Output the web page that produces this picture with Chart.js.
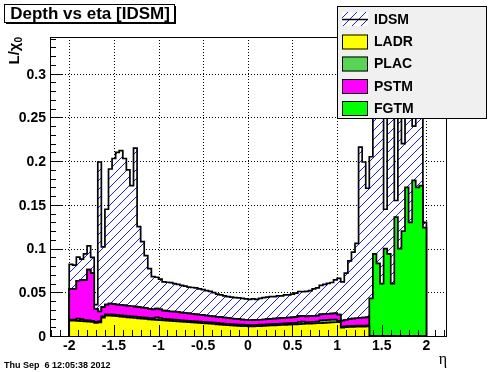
<!DOCTYPE html>
<html>
<head>
<meta charset="utf-8">
<script src="https://cdn.jsdelivr.net/npm/chart.js@4.4.1/dist/chart.umd.min.js"></script>
<style>
  html, body { margin: 0; padding: 0; background: #fff; }
  canvas { display: block; }
</style>
</head>
<body>
<canvas id="depth_chart" width="496" height="372"></canvas>
<script>
// histogram binning in eta
const etaLow = -2;
const binWidth = 0.04;

// material depth per bin (L/X0), one array per detector volume
const ladr = [
  .0177, .0175, .0173, .0170, .0168, .0165, .0160, .0150, .0155, .0210,
  .0234, .0232, .0230, .0226, .0222, .0218, .0214, .0210, .0206, .0202,
  .0198, .0195, .0191, .0188, .0185, .0182, .0179, .0176, .0173, .0170,
  .0167, .0164, .0161, .0158, .0155, .0152, .0149, .0146, .0143, .0140,
  .0137, .0134, .0131, .0128, .0125, .0122, .0119, .0116, .0114, .0112,
  .0110, .0111, .0112, .0114, .0116, .0118, .0120, .0122, .0124, .0126,
  .0128, .0130, .0132, .0134, .0136, .0138, .0140, .0142, .0144, .0146,
  .0148, .0150, .0152, .0155, .0157, .0158, .0095, .0100, .0103, .0105,
  .0106, .0107, .0108, .0109, 0, 0, 0, 0, 0, 0,
  0, 0, 0, 0, 0, 0, 0, 0, 0, 0
];
const plac = [
  .0012, .0012, .0026, .0024, .0014, .0014, .0014, .0012, .0012, .0014,
  .0015, .0015, .0015, .0015, .0015, .0015, .0015, .0016, .0016, .0016,
  .0016, .0016, .0016, .0016, .0028, .0026, .0016, .0017, .0017, .0017,
  .0017, .0016, .0016, .0016, .0016, .0016, .0016, .0016, .0016, .0015,
  .0015, .0015, .0015, .0015, .0015, .0015, .0015, .0015, .0015, .0015,
  .0015, .0015, .0015, .0015, .0015, .0015, .0016, .0016, .0016, .0016,
  .0016, .0017, .0017, .0017, .0026, .0026, .0018, .0018, .0019, .0019,
  .0030, .0032, .0032, .0032, .0030, .0016, .0012, .0012, .0012, .0012,
  .0012, .0012, .0012, .0012, 0, 0, 0, 0, 0, 0,
  0, 0, 0, 0, 0, 0, 0, 0, 0, 0
];
const pstm = [
  .0351, .0353, .0433, .0446, .0458, .0581, .0546, .0148, .0113, .0106,
  .0111, .0123, .0120, .0119, .0118, .0117, .0116, .0114, .0113, .0112,
  .0111, .0109, .0103, .0101, .0099, .0097, .0095, .0092, .0090, .0091,
  .0088, .0088, .0085, .0084, .0081, .0080, .0078, .0076, .0074, .0073,
  .0072, .0070, .0069, .0067, .0065, .0063, .0062, .0061, .0059, .0057,
  .0055, .0056, .0057, .0057, .0058, .0059, .0059, .0060, .0061, .0062,
  .0063, .0063, .0064, .0065, .0066, .0066, .0067, .0068, .0068, .0069,
  .0069, .0069, .0069, .0069, .0071, .0071, .0070, .0073, .0077, .0081,
  .0085, .0088, .0090, .0093, 0, 0, 0, 0, 0, 0,
  0, 0, 0, 0, 0, 0, 0, 0, 0, 0
];
const fgtm = [
  0, 0, 0, 0, 0, 0, 0, 0, 0, 0,
  0, 0, 0, 0, 0, 0, 0, 0, 0, 0,
  0, 0, 0, 0, 0, 0, 0, 0, 0, 0,
  0, 0, 0, 0, 0, 0, 0, 0, 0, 0,
  0, 0, 0, 0, 0, 0, 0, 0, 0, 0,
  0, 0, 0, 0, 0, 0, 0, 0, 0, 0,
  0, 0, 0, 0, 0, 0, 0, 0, 0, 0,
  0, 0, 0, 0, 0, 0, 0, 0, 0, 0,
  0, 0, 0, 0, .043, .094, .083, .060, .100, .094,
  .060, .136, .100, .120, .170, .130, .178, .170, .172, .124
];
const idsm = [
  .028, .027, .027, .024, .030, .027, .018, .005, .171, .069,
  .109, .154, .1665, .174, .1765, .168, .1555, .138, .1815, .092,
  .0755, .060, .046, .0375, .036, .0345, .033, .033, .033, .0322,
  .0318, .0312, .0308, .0302, .0303, .0302, .0297, .0292, .0287, .0282,
  .0271, .0261, .0255, .0250, .0245, .0245, .0244, .0243, .0242, .0241,
  .0240, .0243, .0236, .0244, .0251, .0253, .0255, .0252, .0259, .0256,
  .0263, .0260, .0267, .0274, .0281, .0278, .0285, .0292, .0309, .0316,
  .0333, .0340, .0348, .0356, .0384, .0415, .0443, .0535, .0668, .0762,
  .0857, .1953, .1780, .1476, .162, .186, .277, .240, .045, .266,
  .260, .019, .260, .100, .190, .170, .062, .190, .188, .006
];

const xTickLabels = [-2, -1.5, -1, -0.5, 0, 0.5, 1, 1.5, 2];
const yTickLabels = [0, 0.05, 0.1, 0.15, 0.2, 0.25, 0.3];
const legendOrder = ['IDSM', 'LADR', 'PLAC', 'PSTM', 'FGTM'];
const titleText = 'Depth vs eta [IDSM]';
const dateText = 'Thu Sep  6 12:05:38 2012';

const FONT = '"Liberation Sans", Arial, sans-serif';

function makeHatch() {
    const c = document.createElement('canvas');
    c.width = 9;
    c.height = 9;
    const g = c.getContext('2d');
    g.fillStyle = '#ffffff';
    g.fillRect(0, 0, 9, 9);
    g.strokeStyle = '#0000ff';
    g.lineWidth = 0.9;
    g.beginPath();
    g.moveTo(-1, 10);
    g.lineTo(10, -1);
    g.stroke();
    return g.createPattern(c, 'repeat');
}
const hatch = makeHatch();

// stack order, bottom to top
const layers = [
    { label: 'LADR', values: ladr, color: '#ffff00' },
    { label: 'PLAC', values: plac, color: '#59d354' },
    { label: 'PSTM', values: pstm, color: '#ff00ff' },
    { label: 'FGTM', values: fgtm, color: '#00ff00' },
    { label: 'IDSM', values: idsm, color: hatch }
];

const nBins = idsm.length;
const running = new Array(nBins).fill(0);
const datasets = layers.map((layer, k) => {
    const pts = [{ x: etaLow, y: 0 }];
    layer.values.forEach((v, i) => {
        running[i] += v;
        pts.push({ x: etaLow + i * binWidth, y: running[i] });
    });
    pts.push({ x: etaLow + nBins * binWidth, y: 0 });
    return {
        label: layer.label,
        data: pts,
        stepped: 'before',
        fill: k === 0 ? 'origin' : '-1',
        backgroundColor: layer.color,
        borderColor: '#000000',
        borderWidth: 1.7,
        pointRadius: 0,
        tension: 0,
        clip: 0
    };
});

function fmt(v) {
    return String(v);
}

const rootStyle = {
    id: 'rootStyle',
    beforeDatasetsDraw(chart) {
        const { ctx, chartArea: a, scales: { x, y } } = chart;
        ctx.save();
        ctx.strokeStyle = '#000';
        ctx.lineWidth = 1;
        ctx.setLineDash([1, 2]);
        xTickLabels.forEach(v => {
            const px = Math.round(x.getPixelForValue(v)) + 0.5;
            ctx.beginPath();
            ctx.moveTo(px, a.top);
            ctx.lineTo(px, a.bottom);
            ctx.stroke();
        });
        yTickLabels.forEach(v => {
            if (v === 0) return;
            const py = Math.round(y.getPixelForValue(v)) + 0.5;
            ctx.beginPath();
            ctx.moveTo(a.left, py);
            ctx.lineTo(a.right, py);
            ctx.stroke();
        });
        ctx.restore();
    },
    afterDatasetsDraw(chart) {
        const { ctx, chartArea: a, scales: { x, y } } = chart;
        ctx.save();
        ctx.strokeStyle = '#000';
        ctx.lineWidth = 1;
        // frame
        ctx.strokeRect(Math.round(a.left) + 0.5, Math.round(a.top) + 0.5,
            Math.round(a.right - a.left) - 1, Math.round(a.bottom - a.top));
        // y ticks, inward
        for (let k = 0; k <= 34; k++) {
            const v = k / 100;
            const py = Math.round(y.getPixelForValue(v)) + 0.5;
            const len = k % 5 === 0 ? 12 : 6;
            ctx.beginPath();
            ctx.moveTo(a.left, py);
            ctx.lineTo(a.left + len, py);
            ctx.stroke();
        }
        // x ticks, inward
        for (let k = -22; k <= 22; k++) {
            const v = k / 10;
            const px = Math.round(x.getPixelForValue(v)) + 0.5;
            const len = k % 5 === 0 ? 11 : 6;
            ctx.beginPath();
            ctx.moveTo(px, a.bottom);
            ctx.lineTo(px, a.bottom - len);
            ctx.stroke();
        }
        // tick labels
        ctx.fillStyle = '#000';
        ctx.font = 'bold 14px ' + FONT;
        ctx.textAlign = 'right';
        ctx.textBaseline = 'middle';
        yTickLabels.forEach(v => {
            ctx.fillText(fmt(v), a.left - 4, y.getPixelForValue(v) + 1);
        });
        ctx.textAlign = 'center';
        ctx.textBaseline = 'top';
        xTickLabels.forEach(v => {
            ctx.fillText(fmt(v), x.getPixelForValue(v), a.bottom + 3);
        });
        ctx.restore();
    },
    afterDraw(chart) {
        const { ctx, chartArea: a } = chart;
        ctx.save();

        // title box
        ctx.fillStyle = '#fff';
        ctx.fillRect(4, 4, 171, 19);
        ctx.strokeStyle = '#000';
        ctx.lineWidth = 1;
        ctx.strokeRect(4.5, 4.5, 170, 18);
        ctx.fillStyle = '#000';
        ctx.fillRect(175, 6, 1, 18);
        ctx.fillRect(6, 23, 170, 1);
        ctx.font = 'bold 17px ' + FONT;
        ctx.textAlign = 'center';
        ctx.textBaseline = 'middle';
        ctx.fillText(titleText, 90, 14);

        // legend
        ctx.fillStyle = '#f0f0f0';
        ctx.fillRect(337, 6, 150, 113);
        ctx.strokeStyle = '#000';
        ctx.strokeRect(337.5, 6.5, 149, 112);
        const rowY = [19, 41.5, 63.5, 86, 108];
        legendOrder.forEach((name, r) => {
            const ds = chart.data.datasets.find(d => d.label === name);
            const cy = rowY[r];
            if (name === 'IDSM') {
                ctx.fillStyle = hatch;
                ctx.fillRect(342, cy - 7, 26, 14);
                ctx.strokeStyle = '#000';
                ctx.lineWidth = 1.5;
                ctx.beginPath();
                ctx.moveTo(342, cy + 0.5);
                ctx.lineTo(368, cy + 0.5);
                ctx.stroke();
            } else {
                ctx.fillStyle = ds.backgroundColor;
                ctx.fillRect(342, cy - 7, 26, 15);
                ctx.strokeStyle = '#000';
                ctx.lineWidth = 1;
                ctx.strokeRect(342.5, cy - 6.5, 25, 14);
            }
            ctx.fillStyle = '#000';
            ctx.font = 'bold 14px ' + FONT;
            ctx.textAlign = 'left';
            ctx.textBaseline = 'middle';
            ctx.fillText(name, 374, cy + 1);
        });

        // y axis title L/chi_0, rotated
        ctx.save();
        ctx.translate(19, 37);
        ctx.rotate(-Math.PI / 2);
        ctx.fillStyle = '#000';
        ctx.textBaseline = 'alphabetic';
        ctx.textAlign = 'left';
        ctx.font = 'bold 15px ' + FONT;
        const w1 = ctx.measureText('L/\u03c7').width;
        ctx.font = 'bold 10px ' + FONT;
        const w2 = ctx.measureText('0').width;
        const start = -(w1 + w2);
        ctx.font = 'bold 15px ' + FONT;
        ctx.fillText('L/\u03c7', start, 0);
        ctx.font = 'bold 10px ' + FONT;
        ctx.fillText('0', start + w1, 3);
        ctx.restore();

        // x axis title eta
        ctx.fillStyle = '#000';
        ctx.font = '16px "Liberation Serif", "DejaVu Serif", serif';
        ctx.textAlign = 'right';
        ctx.textBaseline = 'alphabetic';
        ctx.fillText('\u03b7', a.right, 364);

        // date stamp
        ctx.font = 'bold 9px ' + FONT;
        ctx.textAlign = 'left';
        ctx.fillText(dateText, 4, 368);
        ctx.restore();
    }
};

new Chart(document.getElementById('depth_chart'), {
    type: 'line',
    data: { datasets: datasets },
    options: {
        responsive: false,
        animation: false,
        devicePixelRatio: 1,
        layout: { padding: { left: 50, right: 49, top: 37, bottom: 36 } },
        plugins: {
            legend: { display: false },
            tooltip: { enabled: false },
            filler: { propagate: false }
        },
        scales: {
            x: { type: 'linear', min: -2.215, max: 2.23, display: false },
            y: { type: 'linear', min: 0, max: 0.342, display: false }
        }
    },
    plugins: [rootStyle]
});
</script>
</body>
</html>
